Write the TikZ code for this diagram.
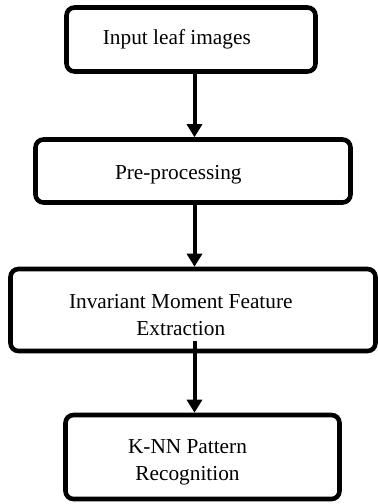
\documentclass[tikz,border=0pt]{standalone}
\usepackage{fontspec}
\setmainfont{Liberation Serif}
\usetikzlibrary{arrows.meta}
\begin{document}
\begin{tikzpicture}[x=1pt,y=-1pt,
  box/.style={draw=black, line width=4.6pt, rounded corners=8pt, inner sep=0pt, outer sep=0pt, fill=white},
  lbl/.style={inner sep=0pt, font=\fontsize{21.3}{25}\selectfont},
  arr/.style={line width=4pt, -{Triangle[length=13pt,width=15pt]}, shorten >=2.3pt}]
\useasboundingbox (0,0) rectangle (378,504);
\node[box, minimum width=249pt, minimum height=64pt] (b1) at (191,39.5) {};
\node[box, minimum width=315pt, minimum height=63pt] (b2) at (193,171) {};
\node[box, minimum width=365pt, minimum height=82pt] (b3) at (193,310) {};
\node[box, minimum width=274pt, minimum height=84pt] (b4) at (202.5,457) {};
\coordinate (ax) at (194.5,0);
\node[lbl, anchor=base west] (t1) at (102.7,44.3) {Input leaf images};
\node[lbl, anchor=base] (t2) at (178.3,179.3) {Pre-processing};
\node[lbl, anchor=base] (t3a) at (180.8,308.3) {Invariant Moment Feature};
\node[lbl, anchor=base] (t3b) at (180.8,335) {Extraction};
\node[lbl, anchor=base] (t4a) at (187.5,453.3) {K-NN Pattern};
\node[lbl, anchor=base] (t4b) at (187.5,480) {Recognition};
\draw[arr] (b1.south -| ax) -- (b2.north -| ax);
\draw[arr] (b2.south -| ax) -- (b3.north -| ax);
\draw[arr] (b3.south -| ax) ++(0,-10) -- (b4.north -| ax);
\end{tikzpicture}
\end{document}
